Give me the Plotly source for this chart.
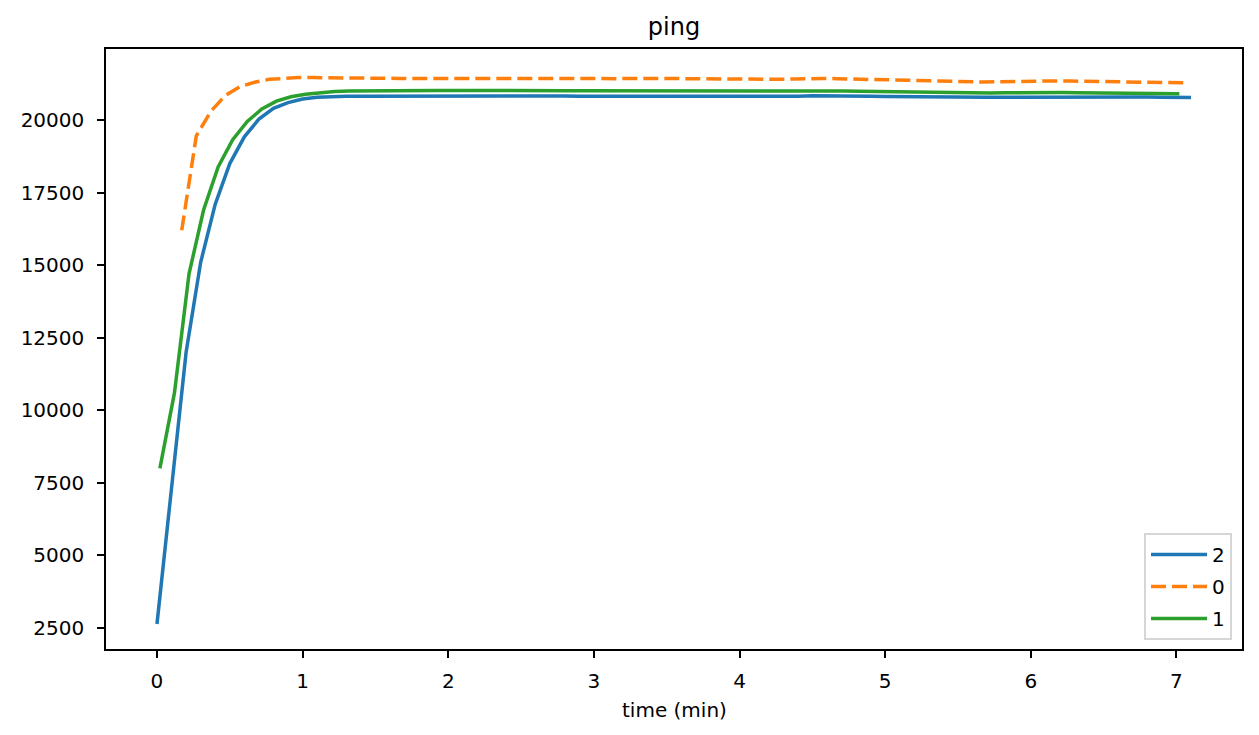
import plotly.graph_objects as go

# ---- data ----
t_blue = [0.0, 0.1, 0.2, 0.3, 0.4, 0.5, 0.6, 0.7, 0.8, 0.9, 1.0, 1.1, 1.2, 1.3, 1.4, 1.5, 1.6, 1.7, 1.8, 1.9,
          2.0, 2.1, 2.2, 2.3, 2.4, 2.5, 2.6, 2.7, 2.8, 2.9, 3.0, 3.1, 3.2, 3.3, 3.4, 3.5, 3.6, 3.7, 3.8, 3.9,
          4.0, 4.1, 4.2, 4.3, 4.4, 4.5, 4.6, 4.7, 4.8, 4.9, 5.0, 5.1, 5.2, 5.3, 5.4, 5.5, 5.6, 5.7, 5.8, 5.9,
          6.0, 6.1, 6.2, 6.3, 6.4, 6.5, 6.6, 6.7, 6.8, 6.9, 7.0, 7.1]
v_blue = [2640, 7300, 12000, 15100, 17100, 18500, 19420, 20030, 20400, 20600, 20720, 20780, 20805, 20815, 20820, 20822, 20825, 20828, 20828, 20830,
          20830, 20831, 20831, 20830, 20830, 20828, 20826, 20828, 20826, 20820, 20818, 20816, 20822, 20828, 20830, 20828, 20822, 20820, 20818, 20818,
          20816, 20810, 20804, 20800, 20818, 20838, 20840, 20836, 20828, 20820, 20812, 20804, 20796, 20790, 20785, 20782, 20780, 20780, 20782, 20784,
          20786, 20790, 20800, 20810, 20812, 20808, 20802, 20796, 20790, 20784, 20778, 20772]

t_orange = [0.17, 0.27, 0.37, 0.47, 0.57, 0.67, 0.77, 0.87, 0.97, 1.07, 1.17, 1.27, 1.37, 1.47, 1.57, 1.67, 1.77, 1.87, 1.97,
            2.07, 2.17, 2.27, 2.37, 2.47, 2.57, 2.67, 2.77, 2.87, 2.97, 3.07, 3.17, 3.27, 3.37, 3.47, 3.57, 3.67, 3.77, 3.87, 3.97,
            4.07, 4.17, 4.27, 4.37, 4.47, 4.57, 4.67, 4.77, 4.87, 4.97, 5.07, 5.17, 5.27, 5.37, 5.47, 5.57, 5.67, 5.77, 5.87, 5.97,
            6.07, 6.17, 6.27, 6.37, 6.47, 6.57, 6.67, 6.77, 6.87, 6.97, 7.07]
v_orange = [16200, 19450, 20300, 20850, 21150, 21300, 21400, 21440, 21460, 21460, 21450, 21445, 21440, 21438, 21436, 21434, 21432, 21430, 21430,
            21430, 21428, 21428, 21426, 21426, 21424, 21422, 21420, 21420, 21418, 21420, 21425, 21432, 21438, 21436, 21428, 21420, 21414, 21410, 21408,
            21406, 21404, 21402, 21412, 21428, 21430, 21424, 21412, 21396, 21380, 21366, 21350, 21336, 21322, 21312, 21308, 21310, 21318, 21330, 21342,
            21348, 21346, 21340, 21330, 21318, 21306, 21298, 21292, 21288, 21284, 21282]

t_green = [0.02, 0.12, 0.22, 0.32, 0.42, 0.52, 0.62, 0.72, 0.82, 0.92, 1.02, 1.12, 1.22, 1.32, 1.42, 1.52, 1.62, 1.72, 1.82, 1.92,
           2.02, 2.12, 2.22, 2.32, 2.42, 2.52, 2.62, 2.72, 2.82, 2.92, 3.02, 3.12, 3.22, 3.32, 3.42, 3.52, 3.62, 3.72, 3.82, 3.92,
           4.02, 4.12, 4.22, 4.32, 4.42, 4.52, 4.62, 4.72, 4.82, 4.92, 5.02, 5.12, 5.22, 5.32, 5.42, 5.52, 5.62, 5.72, 5.82, 5.92,
           6.02, 6.12, 6.22, 6.32, 6.42, 6.52, 6.62, 6.72, 6.82, 6.92, 7.02]
v_green = [8000, 10600, 14700, 16900, 18380, 19320, 19950, 20380, 20650, 20800, 20890, 20950, 20985, 21000, 21008, 21012, 21015, 21017, 21018, 21020,
           21020, 21022, 21022, 21020, 21018, 21014, 21010, 21010, 21008, 21006, 21006, 21010, 21016, 21022, 21024, 21020, 21014, 21008, 21004, 21002,
           21000, 20998, 20996, 20994, 20998, 21004, 21002, 20998, 20992, 20984, 20976, 20966, 20956, 20946, 20938, 20934, 20932, 20934, 20940, 20946,
           20950, 20948, 20944, 20940, 20936, 20930, 20926, 20920, 20914, 20908, 20902]

x_ticks = [0, 1, 2, 3, 4, 5, 6, 7]
y_ticks = [2500, 5000, 7500, 10000, 12500, 15000, 17500, 20000]

series = [
    ("2", t_blue, v_blue, "#1f77b4", "solid"),
    ("0", t_orange, v_orange, "#ff7f0e", "15px,6px"),
    ("1", t_green, v_green, "#2ca02c", "solid"),
]

W, H = 1251, 727
fig = go.Figure()
for name, t, v, color, dash in series:
    fig.add_trace(go.Scatter(x=t, y=v, mode="lines", name=name, legendgroup=name,
                             line=dict(color=color, width=3.5, dash=dash)))

font = "DejaVu Sans, sans-serif"
fig.update_layout(
    width=W, height=H,
    margin=dict(l=98, r=17, t=41, b=86),
    paper_bgcolor="white", plot_bgcolor="white",
    font=dict(family=font, size=20, color="black"),
    title=dict(text="ping", x=0.5, xref="paper", xanchor="center",
               y=1 - 19 / H, yref="container", yanchor="middle",
               font=dict(size=24, family=font, color="black")),
    legend=dict(x=0.9912, xanchor="right", y=0.015, yanchor="bottom",
                bordercolor="#d6d6d6", borderwidth=2, bgcolor="rgba(255,255,255,0.8)",
                font=dict(size=20, family=font), tracegroupgap=3, itemwidth=56),
    showlegend=True,
    annotations=[dict(text="time (min)", x=0.5, xref="paper", y=-(702 - 641) / 600, yref="paper",
                      xanchor="center", yanchor="middle", showarrow=False,
                      font=dict(size=20, family=font, color="black"))],
)
fig.update_xaxes(range=[-0.35, 7.45], tickvals=x_ticks, ticktext=[str(x) for x in x_ticks],
                 showgrid=False, zeroline=False, showline=True, linecolor="black", linewidth=1.5,
                 mirror=True, ticks="outside", ticklen=7, tickwidth=1.5, tickcolor="black",
                 tickfont=dict(size=20, family=font), ticklabelstandoff=6)
fig.update_yaxes(range=[1777, 22446], tickvals=y_ticks, ticktext=[str(y) for y in y_ticks],
                 showgrid=False, zeroline=False, showline=True, linecolor="black", linewidth=1.5,
                 mirror=True, ticks="outside", ticklen=7, tickwidth=1.5, tickcolor="black",
                 tickfont=dict(size=20, family=font), ticklabelstandoff=9)

fig.write_html("out.html")
